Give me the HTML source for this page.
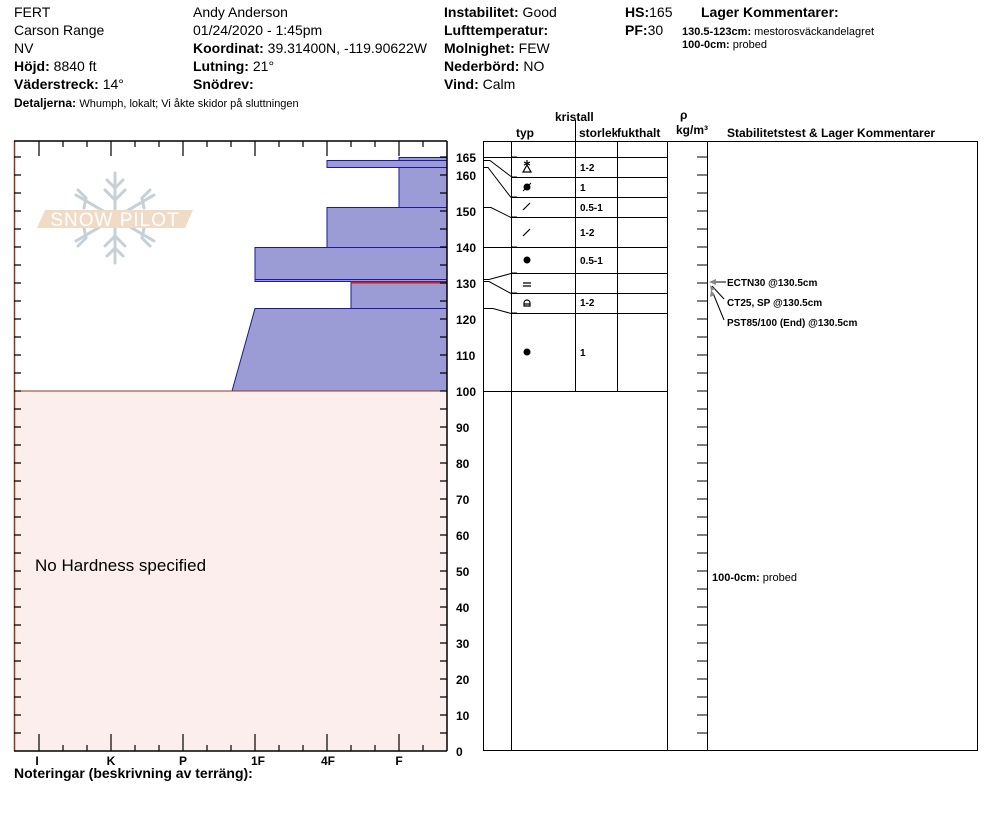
<!DOCTYPE html>
<html><head><meta charset="utf-8"><style>
body{margin:0;background:#fff}
svg{display:block}
text{font-family:"Liberation Sans",Arial,sans-serif}
.b{font-weight:bold}
</style></head><body>
<svg width="994" height="840" viewBox="0 0 994 840" xmlns="http://www.w3.org/2000/svg">
<!-- header -->
<g font-size="14" fill="#000">
<text x="14" y="17">FERT</text>
<text x="14" y="35">Carson Range</text>
<text x="14" y="53">NV</text>
<text x="14" y="71"><tspan class="b">Höjd:</tspan> 8840 ft</text>
<text x="14" y="89"><tspan class="b">Väderstreck:</tspan> 14°</text>
<text x="193" y="17">Andy Anderson</text>
<text x="193" y="35">01/24/2020 - 1:45pm</text>
<text x="193" y="53"><tspan class="b">Koordinat:</tspan> 39.31400N, -119.90622W</text>
<text x="193" y="71"><tspan class="b">Lutning:</tspan> 21°</text>
<text x="193" y="89"><tspan class="b">Snödrev:</tspan></text>
<text x="444" y="17"><tspan class="b">Instabilitet:</tspan> Good</text>
<text x="444" y="35"><tspan class="b">Lufttemperatur:</tspan></text>
<text x="444" y="53"><tspan class="b">Molnighet:</tspan> FEW</text>
<text x="444" y="71"><tspan class="b">Nederbörd:</tspan> NO</text>
<text x="444" y="89"><tspan class="b">Vind:</tspan>  Calm</text>
<text x="625" y="17"><tspan class="b">HS:</tspan>165</text>
<text x="625" y="35"><tspan class="b">PF:</tspan>30</text>
<text x="701" y="17" class="b">Lager Kommentarer:</text>
</g>
<text x="14" y="107" font-size="12" class="b">Detaljerna: <tspan font-weight="normal" font-size="11">Whumph, lokalt;  Vi åkte skidor på sluttningen</tspan></text>
<text x="682" y="35" font-size="11"><tspan class="b">130.5-123cm:</tspan> mestorosväckandelagret</text>
<text x="682" y="48" font-size="11"><tspan class="b">100-0cm:</tspan>  probed</text>

<!-- column headers -->
<g font-size="12" class="b">
<text x="555" y="121">kristall</text>
<text x="516" y="137">typ</text>
<text x="579" y="137">storlek</text>
<text x="617" y="137" fill="#000">fukthalt</text>
<text x="680" y="119">ρ</text>
<text x="676" y="134">kg/m³</text>
<text x="727" y="137">Stabilitetstest &amp; Lager Kommentarer</text>
</g>
<rect x="617" y="126" width="50" height="14" fill="#fff"/>
<text x="617" y="137" font-size="12" class="b">fukthalt</text>

<!-- logo -->
<g stroke="#c5d0d8" stroke-width="3" fill="none" stroke-linecap="round">
<line x1="115" y1="173" x2="115" y2="263"/>
<line x1="76" y1="195" x2="154" y2="241"/>
<line x1="76" y1="241" x2="154" y2="195"/>
<path d="M107 180l8 8 8-8M105 190l10 10 10-10M107 256l8-8 8 8M105 246l10-10 10 10"/>
<path d="M78 190l8 8-2 10M150 190l-8 8 2 10M78 246l8-8-2-10M150 246l-8-8 2-10"/>
</g>
<polygon points="45,210 193,210 185,228 37,228" fill="#f0dcc6"/>
<text x="115" y="226" font-size="19" fill="#fff" text-anchor="middle" letter-spacing="1">SNOW PILOT</text>

<!-- left chart -->
<rect x="14" y="391" width="433" height="360" fill="#fdeeee"/>
<g fill="#9b9bd6" stroke="#1a1a9a" stroke-width="1">
<rect x="399" y="157.5" width="48" height="50"/>
<rect x="327" y="160.5" width="120" height="7"/>
<rect x="327" y="207.5" width="120" height="40"/>
<rect x="255" y="247.5" width="192" height="32"/>
<rect x="255" y="279.5" width="192" height="2"/>
<rect x="351" y="282.5" width="96" height="26"/>
<polygon points="255,308.5 447,308.5 447,391 232,391"/>
</g>
<line x1="351" y1="282.5" x2="447" y2="282.5" stroke="#c02020" stroke-width="2"/>
<line x1="14" y1="391" x2="447" y2="391" stroke="#8b3a1a" stroke-width="1"/>
<line x1="14.5" y1="141" x2="14.5" y2="751" stroke="#8b3a1a" stroke-width="1.5"/>
<line x1="14" y1="141" x2="447" y2="141" stroke="#000" stroke-width="1.5"/>
<line x1="14" y1="751" x2="447" y2="751" stroke="#000" stroke-width="1.5"/>
<line x1="447" y1="141" x2="447" y2="751" stroke="#000" stroke-width="1.5"/>
<g stroke="#000" stroke-width="1.2" id="xt">
<path d="M39 141v15M111 141v15M183 141v15M255 141v15M327 141v15M399 141v15M63 141v6M87 141v6M135 141v6M159 141v6M207 141v6M231 141v6M279 141v6M303 141v6M351 141v6M375 141v6M423 141v6"/>
<path d="M39 751v-17M111 751v-17M183 751v-17M255 751v-17M327 751v-17M399 751v-17M63 751v-6M87 751v-6M135 751v-6M159 751v-6M207 751v-6M231 751v-6M279 751v-6M303 751v-6M351 751v-6M375 751v-6M423 751v-6"/>
<path d="M14 157h7M14 175h7M14 193h7M14 211h7M14 229h7M14 247h7M14 265h7M14 283h7M14 301h7M14 319h7M14 337h7M14 355h7M14 373h7M14 391h7M14 409h7M14 427h7M14 445h7M14 463h7M14 481h7M14 499h7M14 517h7M14 535h7M14 553h7M14 571h7M14 589h7M14 607h7M14 625h7M14 643h7M14 661h7M14 679h7M14 697h7M14 715h7M14 733h7"/>
<path d="M447 157h-7M447 175h-7M447 193h-7M447 211h-7M447 229h-7M447 247h-7M447 265h-7M447 283h-7M447 301h-7M447 319h-7M447 337h-7M447 355h-7M447 373h-7M447 391h-7M447 409h-7M447 427h-7M447 445h-7M447 463h-7M447 481h-7M447 499h-7M447 517h-7M447 535h-7M447 553h-7M447 571h-7M447 589h-7M447 607h-7M447 625h-7M447 643h-7M447 661h-7M447 679h-7M447 697h-7M447 715h-7M447 733h-7"/>
</g>
<g font-size="12" class="b" text-anchor="middle">
<text x="37" y="765">I</text><text x="111" y="765">K</text><text x="183" y="765">P</text><text x="258" y="765">1F</text><text x="328" y="765">4F</text><text x="399" y="765">F</text>
</g>
<text x="14" y="778" font-size="14" class="b">Noteringar (beskrivning av terräng):</text>
<text x="35" y="571" font-size="17">No Hardness specified</text>

<!-- y labels -->
<g font-size="12" class="b">
<text x="456" y="162">165</text><text x="456" y="180">160</text>
<text x="456" y="216">150</text><text x="456" y="252">140</text><text x="456" y="288">130</text><text x="456" y="324">120</text><text x="456" y="360">110</text><text x="456" y="396">100</text>
<text x="456" y="432">90</text><text x="456" y="468">80</text><text x="456" y="504">70</text><text x="456" y="540">60</text><text x="456" y="576">50</text><text x="456" y="612">40</text><text x="456" y="648">30</text><text x="456" y="684">20</text><text x="456" y="720">10</text><text x="456" y="756">0</text>
</g>

<!-- table -->
<g stroke="#000" stroke-width="1" fill="none">
<rect x="483.5" y="141.5" width="494" height="609"/>
<path d="M511.5 141v610M575.5 141v250M617.5 141v250M667.5 141v610M707.5 141v610"/>
<path d="M575.5 120v21"/>
<path d="M483 157.5h184M511 177.5h156M511 197.5h156M511 217.5h156M483 247.5h184M511 273.5h156M511 293.5h156M511 313.5h156M483 391.5h184"/>
<path d="M483 160.5h7l21 16M483 167.5h5l23 30M483 207.5h8l20 10M483 279.5h6l22-6M483 281.5h6l22 12M483 308.5h10l18 5"/>
<path d="M697 157h10M697 175h10M697 193h10M697 211h10M697 229h10M697 247h10M697 265h10M697 283h10M697 301h10M697 319h10M697 337h10M697 355h10M697 373h10M697 391h10M697 409h10M697 427h10M697 445h10M697 463h10M697 481h10M697 499h10M697 517h10M697 535h10M697 553h10M697 571h10M697 589h10M697 607h10M697 625h10M697 643h10M697 661h10M697 679h10M697 697h10M697 715h10M697 733h10"/>
<path d="M511 157h6M511 177h6M511 197h6M511 217h6M511 247h6M511 273h6M511 293h6M511 313h6"/>
</g>
<!-- symbols -->
<g stroke="#000" stroke-width="1.2" fill="none">
<path d="M523 172l4-7 4 7z M527 160v6 M524 162l6 3 M530 162l-6 3"/>
<path d="M523 236l7-7M523 210l7-7"/>
<path d="M523 283h8M523 286h8"/>
<path d="M524 306v-3a3 3 0 0 1 6 0v3zM524 304h6"/>
</g>
<g fill="#000">
<circle cx="527" cy="187" r="3.5"/><path d="M523 191l8-8" stroke="#000"/>
<circle cx="527" cy="260" r="3.5"/>
<circle cx="527" cy="352" r="3.5"/>
</g>
<g font-size="10" class="b">
<text x="580" y="171">1-2</text><text x="580" y="191">1</text><text x="580" y="211">0.5-1</text><text x="580" y="236">1-2</text><text x="580" y="264">0.5-1</text><text x="580" y="306">1-2</text><text x="580" y="356">1</text>
</g>
<!-- stability -->
<g stroke="#000" stroke-width="1" fill="none">
<path d="M726 282h-14M724 299l-12-13M724 320l-11-27"/>
</g>
<g fill="#888"><polygon points="709,282 716,279 716,285"/><polygon points="710,285 715,289 711,291"/><polygon points="711,290 715,295 710,297"/></g>
<g font-size="10" class="b">
<text x="727" y="286">ECTN30 @130.5cm</text>
<text x="727" y="306">CT25, SP @130.5cm</text>
<text x="727" y="326">PST85/100 (End) @130.5cm</text>
</g>
<text x="712" y="581" font-size="11"><tspan class="b">100-0cm:</tspan>  probed</text>
</svg>
</body></html>
